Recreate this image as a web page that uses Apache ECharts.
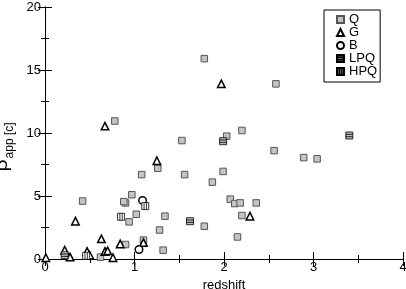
<!DOCTYPE html>
<html><head><meta charset="utf-8">
<script src="https://cdn.jsdelivr.net/npm/echarts@6/dist/echarts.min.js"></script>
<style>html,body{margin:0;padding:0;background:#fff}#c{width:406px;height:289px}</style>
</head><body><div id="c"></div>
<script>
const Q = [[1.78,15.9],[2.58,13.9],[2.20,10.2],[2.03,9.75],[2.56,8.6],[2.89,8.05],[3.04,7.95],[1.99,6.95],[1.87,6.1],[2.07,4.75],[2.12,4.4],[2.18,4.45],[2.36,4.45],[2.20,3.45],[1.78,2.6],[2.15,1.75],[0.78,10.95],[1.53,9.4],[1.26,7.2],[1.08,6.7],[1.56,6.7],[0.42,4.6],[0.97,5.1],[0.90,4.45],[0.88,4.55],[0.94,2.95],[1.02,3.55],[1.34,3.4],[1.28,2.3],[0.90,1.15],[1.10,1.5],[1.32,0.7],[0.62,0.15]];
const G = [[1.97,13.9],[0.67,10.55],[1.25,7.8],[2.29,3.4],[0.34,3.0],[0.63,1.6],[0.84,1.2],[1.10,1.3],[0.01,0.1],[0.22,0.7],[0.28,0.15],[0.47,0.6],[0.50,0.3],[0.67,0.6],[0.70,0.65],[0.76,0.1]];
const B = [[1.09,4.65],[1.05,0.75]];
const LPQ = [[1.99,9.35],[3.40,9.8],[1.62,3.0],[0.22,0.3]];
const HPQ = [[1.12,4.2],[0.85,3.35],[0.46,0.25]];
const xTicks = {min:0, max:4, interval:1};
const yTicks = {min:0, max:20, interval:5};

const font = 'Liberation Sans, Arial, sans-serif';
const tickCommon = {
  axisLine:{lineStyle:{color:'#000',width:1}},
  axisTick:{inside:true,length:7,lineStyle:{color:'#000'}},
  minorTick:{show:true,splitNumber:2,length:4,lineStyle:{color:'#000'}},
  splitLine:{show:false}
};
const chart = echarts.init(document.getElementById('c'));
chart.setOption({
  backgroundColor:'#fff',
  animation:false,
  textStyle:{fontFamily:font},
  grid:{left:45,right:3,top:7,bottom:30,containLabel:false,outerBoundsMode:'none'},
  xAxis:[
    Object.assign({type:'value',position:'bottom',min:xTicks.min,max:xTicks.max,interval:xTicks.interval,
      name:'redshift',nameLocation:'middle',nameGap:16,
      nameTextStyle:{fontFamily:font,fontSize:13,color:'#000'},
      axisLabel:{fontFamily:font,fontSize:13,color:'#000',margin:2}},tickCommon),
    Object.assign({type:'value',position:'top',min:xTicks.min,max:xTicks.max,interval:xTicks.interval,
      axisLabel:{show:false}},tickCommon)
  ],
  yAxis:[
    Object.assign({type:'value',position:'left',min:yTicks.min,max:yTicks.max,interval:yTicks.interval,
      name:'{b|β}{s|app [c]}',nameLocation:'middle',nameGap:23,nameRotate:90,
      nameTextStyle:{color:'#000',padding:[0,28,0,0],rich:{
        b:{fontFamily:font,fontSize:21,color:'#000',verticalAlign:'bottom'},
        s:{fontFamily:font,fontSize:12,color:'#000',padding:[0,0,-4,1],verticalAlign:'bottom'}}},
      axisLabel:{fontFamily:font,fontSize:13,color:'#000',margin:4}},tickCommon),
    Object.assign({type:'value',position:'right',min:yTicks.min,max:yTicks.max,interval:yTicks.interval,
      axisLabel:{show:false}},tickCommon)
  ],
  legend:{
    orient:'vertical',left:324,top:10,
    backgroundColor:'#fff',borderColor:'#000',borderWidth:1,borderRadius:0,
    padding:[3,3,4,12],itemGap:0,itemWidth:7,itemHeight:7,
    textStyle:{fontFamily:font,fontSize:13,color:'#000',lineHeight:12},
    data:['Q','G','B','LPQ','HPQ']
  },
  series:[
    {name:'Q',type:'scatter',data:Q,symbol:'rect',symbolSize:6.5,
      itemStyle:{color:'#c4c4c4',borderColor:'#555',borderWidth:1,opacity:1}},
    {name:'G',type:'scatter',data:G,symbol:'triangle',symbolSize:7.5,
      itemStyle:{color:'#fff',borderColor:'#000',borderWidth:1.5,opacity:1}},
    {name:'B',type:'scatter',data:B,symbol:'circle',symbolSize:7.5,
      itemStyle:{color:'#fff',borderColor:'#000',borderWidth:1.5,opacity:1}},
    {name:'LPQ',type:'scatter',data:LPQ,symbol:'path://M0,0H10V10H0Z M0,3.3H10 M0,6.7H10',symbolSize:7,
      itemStyle:{color:'#bbb',borderColor:'#000',borderWidth:0.8,opacity:1}},
    {name:'HPQ',type:'scatter',data:HPQ,symbol:'path://M0,0H10V10H0Z M3.3,0V10 M6.7,0V10',symbolSize:7,
      itemStyle:{color:'#fff',borderColor:'#000',borderWidth:0.8,opacity:1}}
  ]
});
</script></body></html>
